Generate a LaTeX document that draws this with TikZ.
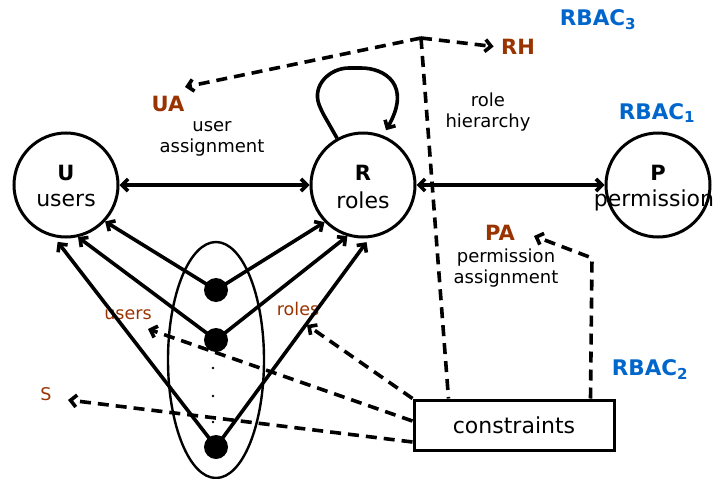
\documentclass[tikz,border=0pt]{standalone}
\usepackage{fontspec}
\setmainfont{DejaVu Sans}
\usetikzlibrary{arrows.meta,shapes.geometric,calc}
\definecolor{brn}{HTML}{993300}
\definecolor{blu}{HTML}{0066CC}
\begin{document}
\begin{tikzpicture}[x=1pt,y=-1pt,
  circ/.style={circle,draw,line width=3pt,minimum size=104pt,inner sep=0pt},
  dotnode/.style={circle,fill,minimum size=24pt,inner sep=0pt},
  tiny/.style={circle,fill,minimum size=2.6pt,inner sep=0pt},
  arr/.style={line width=3.6pt,-{Straight Barb[length=6pt,width=12pt]}},
  darr/.style={line width=3.6pt,{Straight Barb[length=6pt,width=12pt]}-{Straight Barb[length=6pt,width=12pt]}},
  dsh/.style={line width=3.6pt,dash pattern=on 11pt off 7pt},
  dsharr/.style={dsh,-{Straight Barb[length=6pt,width=12pt]}},
  big/.style={font=\fontsize{22}{24}\selectfont},
  mid/.style={font=\fontsize{18}{21}\selectfont,align=center},
  lbl/.style={font=\fontsize{21}{24}\selectfont\bfseries,text=brn},
  rbac/.style={font=\fontsize{21.5}{24}\selectfont\bfseries,text=blu},
  sml/.style={font=\fontsize{17.5}{20}\selectfont,text=brn}
]
\useasboundingbox (0,0) rectangle (728,479);
% main circles
\node[circ] (U) at (66,185) {};
\node[circ] (R) at (363,185) {};
\node[circ] (P) at (658,185) {};
\node[big,font=\fontsize{21}{24}\selectfont\bfseries] (Ut) at (66,173) {U};
\node[big] (Us) at (66,200) {users};
\node[big,font=\fontsize{21}{24}\selectfont\bfseries] (Rt) at (363,173) {R};
\node[big] (Rs) at (363,200) {roles};
\node[big,font=\fontsize{21}{24}\selectfont\bfseries] (Pt) at (658,173) {P};
\node[big] (Ps) at (654,200) {permission};
% constraints box
\node[draw,line width=3pt,minimum width=200pt,minimum height=50pt,big] (C) at (514,425) {constraints};
% ellipse and dots
\node[ellipse,draw,line width=2.4pt,minimum width=96pt,minimum height=236pt] (E) at (216,360) {};
\node[dotnode] (d1) at (216,290) {};
\node[dotnode] (d2) at (216,340) {};
\node[dotnode] (d3) at (216,447) {};
\node[tiny] (t1) at (213,368) {};
\node[tiny] (t2) at (213,396) {};
\node[tiny] (t3) at (213,422) {};
% labels
\node[lbl] (UA) at (168,104) {UA};
\node[mid] (ua) at (212,139) {user\\assignment};
\node[lbl] (RH) at (518,47) {RH};
\node[mid] (rh) at (488,112) {role\\hierarchy};
\node[lbl] (PA) at (500,233) {PA};
\node[mid] (pa) at (506,268) {permission\\assignment};
\node[rbac] (R3) at (598,20) {RBAC\textsubscript{3}};
\node[rbac] (R1) at (657,113) {RBAC\textsubscript{1}};
\node[rbac] (R2) at (650,370) {RBAC\textsubscript{2}};
\node[sml] (lu) at (128,315) {users};
\node[sml] (lr) at (298,309) {roles};
\node[sml] (ls) at (46,394) {S};
% solid connectors
\draw[darr] (U) -- (R);
\draw[darr] (R) -- (P);
\draw[arr] (d1.center) -- (U.-43);
\draw[arr] (d2.center) -- (U.-77);
\draw[arr,shorten >=6pt] (d3.center) -- (U.-103);
\draw[arr] (d1.center) -- (R.-136);
\draw[arr] (d2.center) -- (R.-107);
\draw[arr,shorten >=5pt] (d3.center) -- (R.-83);
\draw[arr,rounded corners=6pt,shorten >=6pt] (R.119) -- (321,110) .. controls (312,85) and (330,68) .. (355,68) .. controls (385,68) and (412,85) .. (R.68);
% dashed connectors
\coordinate (J) at (421,38);
\coordinate (K) at (592,258);
\coordinate (UAt) at (185,87);
\coordinate (PAt) at (534,236);
\coordinate (lut) at (148,329);
\coordinate (lrt) at (307,325);
\coordinate (lst) at (68,400);
\draw[dsharr] (J) -- (UAt);
\draw[dsharr,shorten >=4pt] (J) -- (RH.west);
\draw[dsh] (J) -- ($(C.north west)+(36,0)$);
\draw[dsharr] ($(C.north west)+(178,0)$) -- (K) -- (PAt);
\draw[dsharr] (C.north west) -- (lrt);
\draw[dsharr] ([yshift=4pt]C.west) -- (lut);
\draw[dsharr] ([yshift=-17pt]C.west) -- (lst);
\end{tikzpicture}
\end{document}
